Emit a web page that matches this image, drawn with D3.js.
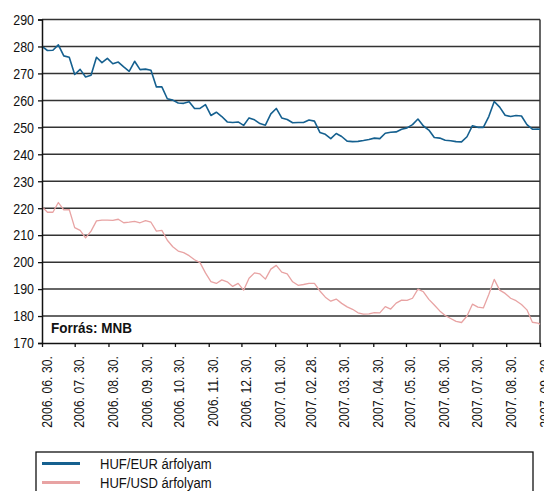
<!DOCTYPE html>
<html>
<head>
<meta charset="utf-8">
<script src="https://cdn.jsdelivr.net/npm/d3@7"></script>
<style>
  body { margin: 0; background: #fff; }
  svg { display: block; font-family: "Liberation Sans", Arial, sans-serif; }
</style>
</head>
<body>
<svg width="544" height="491"></svg>
<script>
// sampling dates: every 5 days from 2006.06.30, plus the last day
var startDate = new Date(2006, 5, 30);
var dayOffsets = d3.range(0, 456, 5).concat([457]);

// HUF/EUR exchange rate
var eurValues = [
  280, 278.5, 278.6, 280.6, 276.5, 276, 269.6, 271.5, 268.7, 269.3,
  276, 274, 275.6, 273.6, 274.2, 272.4, 270.8, 274.5, 271.4, 271.6,
  271.2, 265, 265, 260.6, 260.1, 259, 258.9, 259.5, 257, 257,
  258.4, 254.4, 255.6, 254, 252, 251.8, 252, 250.7, 253.5, 252.8,
  251.4, 250.8, 255, 257, 253.5, 252.9, 251.7, 251.8, 251.8, 252.7,
  252.3, 248.1, 247.4, 245.8, 247.7, 246.6, 244.9, 244.7, 244.8, 245.1,
  245.5, 246, 245.8, 247.8, 248.2, 248.3, 249.3, 249.8, 251, 253.1,
  250.5, 249, 246.2, 246, 245.2, 245, 244.7, 244.6, 246.5, 250.6,
  250, 250, 254, 259.6, 257.5, 254.5, 254, 254.4, 254.2, 251,
  249.3, 249.4, 249.3
];

// HUF/USD exchange rate
var usdValues = [
  220.6, 218.5, 218.5, 222.1, 219.4, 219.5, 212.8, 211.8, 209, 211.5,
  215.3, 215.6, 215.6, 215.5, 215.9, 214.6, 214.8, 215.1, 214.6, 215.4,
  214.8, 211.5, 211.8, 208.1, 205.7, 204.1, 203.5, 202.4, 200.9, 199.8,
  196, 192.8, 192.1, 193.4, 192.7, 191, 192.1, 189.6, 194, 196,
  195.6, 193.7, 197.4, 198.8, 196.3, 195.6, 192.7, 191.4, 191.7, 192.1,
  192.1, 189.3, 187, 185.5, 186.3, 184.7, 183.4, 182.5, 181.2, 180.7,
  180.8, 181.3, 181.2, 183.5, 182.6, 184.8, 185.9, 185.8, 186.6, 190,
  189, 186.2, 184.1, 181.9, 180.2, 179.1, 178, 177.6, 180, 184.4,
  183.3, 183, 188, 193.6, 189.6, 188.4, 186.6, 185.7, 184.3, 182.3,
  177.7, 177.4, 176.9
];

var seriesNames = ["HUF/EUR árfolyam", "HUF/USD árfolyam"];
var seriesColors = ["#15608f", "#e8a3a3"];

var yTicks = [170, 180, 190, 200, 210, 220, 230, 240, 250, 260, 270, 280, 290];
var xTickLabels = ["2006. 06. 30.", "2006. 07. 30.", "2006. 08. 30.", "2006. 09. 30.",
  "2006. 10. 30.", "2006. 11. 30.", "2006. 12. 30.", "2007. 01. 30.", "2007. 02. 28.",
  "2007. 03. 30.", "2007. 04. 30.", "2007. 05. 30.", "2007. 06. 30.", "2007. 07. 30.",
  "2007. 08. 30.", "2007. 09. 30."];

var parseTick = d3.timeParse("%Y. %m. %d.");
var xTickDates = xTickLabels.map(parseTick);

var svg = d3.select("svg");
var plotLeft = 42, plotRight = 540, plotTop = 19.5, plotBottom = 343;

var x = d3.scaleTime()
    .domain([startDate, d3.timeDay.offset(startDate, 457)])
    .range([plotLeft, plotRight]);
var y = d3.scaleLinear().domain([170, 290]).range([plotBottom, plotTop]);

var dates = dayOffsets.map(function(d) { return d3.timeDay.offset(startDate, d); });
var series = [eurValues, usdValues].map(function(vals) {
    return vals.map(function(v, i) { return { date: dates[i], value: v }; });
});

// gridlines
svg.append("g").selectAll("line")
    .data(yTicks.slice(1))
    .enter().append("line")
    .attr("x1", plotLeft).attr("x2", plotRight)
    .attr("y1", function(d) { return y(d); })
    .attr("y2", function(d) { return y(d); })
    .style("stroke", "#333")
    .style("stroke-width", 1.5);

// right border
svg.append("line")
    .attr("x1", plotRight).attr("x2", plotRight)
    .attr("y1", plotTop).attr("y2", plotBottom)
    .style("stroke", "#333").style("stroke-width", 1.5);

// lines
var line = d3.line()
    .x(function(d) { return x(d.date); })
    .y(function(d) { return y(d.value); });

svg.append("g").selectAll("path")
    .data(series)
    .enter().append("path")
    .attr("d", line)
    .style("fill", "none")
    .style("stroke", function(d, i) { return seriesColors[i]; })
    .style("stroke-width", function(d, i) { return i === 0 ? 1.6 : 1.3; })
    .style("stroke-linejoin", "round");

// y axis
var yAxis = svg.append("g")
    .attr("transform", "translate(" + plotLeft + ",0)")
    .call(d3.axisLeft(y).tickValues(yTicks).tickSize(4).tickPadding(4).tickFormat(d3.format("d")));
yAxis.select(".domain").style("stroke", "#111").style("stroke-width", 1.5);
yAxis.selectAll("line").style("stroke", "#111").style("stroke-width", 1.3);
yAxis.selectAll("text")
    .attr("x", 0)
    .attr("transform", "translate(-8,0) scale(0.83,1)")
    .style("font-size", "15px").style("fill", "#111");

// x axis
var xAxis = svg.append("g")
    .attr("transform", "translate(0," + plotBottom + ")")
    .call(d3.axisBottom(x).tickValues(xTickDates).tickSize(4).tickSizeOuter(0)
        .tickFormat(function(d, i) { return xTickLabels[i]; }));
xAxis.select(".domain").style("stroke", "#111").style("stroke-width", 1.5);
xAxis.selectAll("line").style("stroke", "#111").style("stroke-width", 1.3);
xAxis.selectAll("text")
    .attr("x", 0)
    .attr("y", 0)
    .attr("dy", 0)
    .attr("transform", "translate(9,13) rotate(-90) scale(0.82,1)")
    .style("text-anchor", "end")
    .style("font-size", "15px").style("fill", "#111");

// source note
svg.append("text")
    .attr("transform", "translate(51,333) scale(0.9,1)")
    .style("font-size", "15px").style("font-weight", "bold").style("fill", "#111")
    .text("Forrás: MNB");

// legend
svg.append("rect")
    .attr("x", 36).attr("y", 452).attr("width", 497).attr("height", 60)
    .style("fill", "#fff").style("stroke", "#111").style("stroke-width", 1.3);

var legend = svg.append("g").selectAll("g")
    .data(seriesNames)
    .enter().append("g")
    .attr("transform", function(d, i) { return "translate(0," + (463.5 + i * 19) + ")"; });
legend.append("line")
    .attr("x1", 42).attr("x2", 80)
    .style("stroke", function(d, i) { return seriesColors[i]; })
    .style("stroke-width", 3);
legend.append("text")
    .attr("transform", "translate(100,0) scale(0.87,1)")
    .attr("dy", "0.35em")
    .style("font-size", "15px").style("fill", "#111")
    .text(function(d) { return d; });
</script>
</body>
</html>
